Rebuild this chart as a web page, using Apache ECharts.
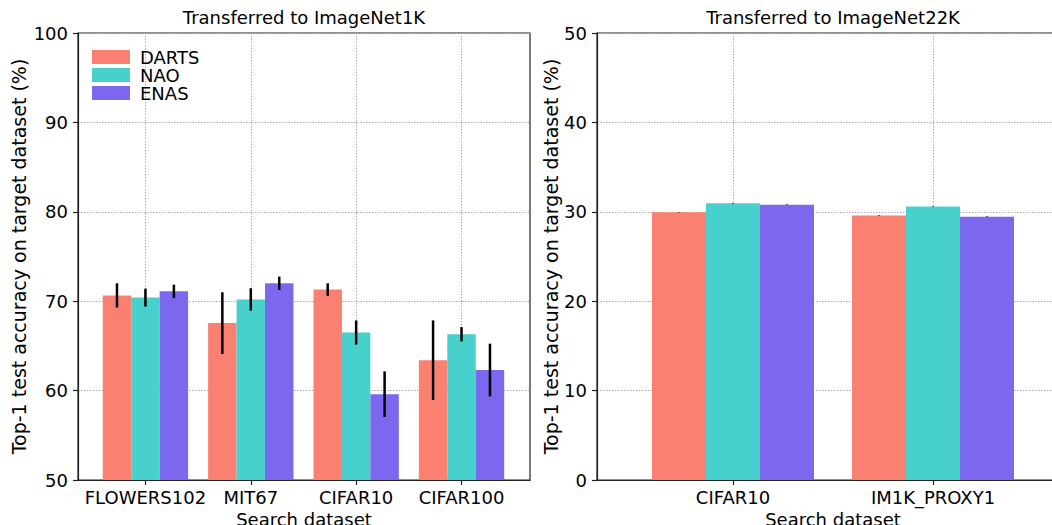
<!DOCTYPE html>
<html>
<head>
<meta charset="utf-8">
<script src="https://cdn.jsdelivr.net/npm/echarts@6/dist/echarts.min.js"></script>
<style>
html,body{margin:0;padding:0;background:#fff;}
#chart{width:1052px;height:525px;}
</style>
</head>
<body>
<div id="chart"></div>
<script>
// ---- data ----
const methods = ['DARTS', 'NAO', 'ENAS'];
const colors = ['#FA8072', '#48D1CC', '#7B68EE'];

const leftCategories = ['FLOWERS102', 'MIT67', 'CIFAR10', 'CIFAR100'];
const leftDARTS = [70.65, 67.55, 71.3, 63.4];
const leftNAO   = [70.4, 70.2, 66.5, 66.3];
const leftENAS  = [71.1, 72.0, 59.6, 62.3];
const leftDARTSErr = [1.35, 3.45, 0.7, 4.45];
const leftNAOErr   = [1.0, 1.25, 1.35, 0.8];
const leftENASErr  = [0.75, 0.75, 2.55, 2.95];

const rightCategories = ['CIFAR10', 'IM1K_PROXY1'];
const rightDARTS = [29.95, 29.6];
const rightNAO   = [30.95, 30.6];
const rightENAS  = [30.8, 29.45];
const rightDARTSErr = [0.04, 0.04];
const rightNAOErr   = [0.04, 0.04];
const rightENASErr  = [0.04, 0.04];

const leftYTicks = [50, 60, 70, 80, 90, 100];
const rightYTicks = [0, 10, 20, 30, 40, 50];

// ---- layout ----
const FONT = 'DejaVu Sans';
const FS = 18;
const barUnit = 0.27;
const L = {left: 78, top: 33, width: 452, height: 447, min: -0.64, max: 3.65};
const R = {left: 597, top: 33, width: 472, height: 447, min: -0.68, max: 1.68};
const pxPerUnit = g => g.width / (g.max - g.min);

const leftVals = [leftDARTS, leftNAO, leftENAS];
const leftErrs = [leftDARTSErr, leftNAOErr, leftENASErr];
const rightVals = [rightDARTS, rightNAO, rightENAS];
const rightErrs = [rightDARTSErr, rightNAOErr, rightENASErr];

function errRender(lw) {
  return function (params, api) {
    const x = api.value(0);
    const p1 = api.coord([x, api.value(1)]);
    const p2 = api.coord([x, api.value(2)]);
    return {type: 'line', shape: {x1: p1[0], y1: p1[1], x2: p2[0], y2: p2[1]},
            style: {stroke: '#000', lineWidth: lw}};
  };
}

const series = [];
function addPanel(vals, errs, axisIdx, g, lw) {
  const bw = barUnit * pxPerUnit(g);
  vals.forEach((arr, s) => {
    const off = (s - 1) * barUnit;
    series.push({
      name: methods[s], type: 'bar', xAxisIndex: axisIdx, yAxisIndex: axisIdx,
      barWidth: bw, barGap: '-100%',
      itemStyle: {color: colors[s]},
      data: arr.map((v, i) => [i + off, v]),
      z: 2
    });
    series.push({
      type: 'custom', xAxisIndex: axisIdx, yAxisIndex: axisIdx,
      renderItem: errRender(lw),
      data: arr.map((v, i) => [i + off, v - errs[s][i], v + errs[s][i]]),
      z: 5, silent: true
    });
  });
}
addPanel(leftVals, leftErrs, 0, L, 2.5);
addPanel(rightVals, rightErrs, 1, R, 1.5);

function xAxisFor(g, idx, cats) {
  const vals = cats.map((c, i) => i);
  return {
    type: 'value', gridIndex: idx, min: g.min, max: g.max,
    name: 'Search dataset', nameLocation: 'middle', nameGap: 24,
    nameTextStyle: {fontFamily: FONT, fontSize: FS, color: '#000'},
    axisLine: {show: true, onZero: false, lineStyle: {color: '#222', width: 1.2}},
    axisTick: {show: true, customValues: vals, length: 5, lineStyle: {color: '#222', width: 1.2}},
    axisLabel: {customValues: vals, formatter: v => cats[Math.round(v)], margin: 8,
                fontFamily: FONT, fontSize: FS, color: '#000'},
    splitLine: {show: true, lineStyle: {color: '#aaa', width: 1, type: [1.5, 1.5]}}
  };
}
function yAxisFor(idx, ticks, gap) {
  return {
    type: 'value', gridIndex: idx, min: ticks[0], max: ticks[ticks.length - 1],
    interval: ticks[1] - ticks[0],
    name: 'Top-1 test accuracy on target dataset (%)', nameLocation: 'middle', nameGap: gap,
    nameTextStyle: {fontFamily: FONT, fontSize: 19, color: '#000'},
    axisLine: {show: true, onZero: false, lineStyle: {color: '#222', width: 1.2}},
    axisTick: {show: true, length: 5, lineStyle: {color: '#222', width: 1.2}},
    axisLabel: {margin: 10, fontFamily: FONT, fontSize: FS, color: '#000'},
    splitLine: {show: true, lineStyle: {color: '#aaa', width: 1, type: [1.5, 1.5]}}
  };
}

const chart = echarts.init(document.getElementById('chart'), null, {renderer: 'svg'});
chart.setOption({
  animation: false,
  backgroundColor: '#fff',
  title: [
    {text: 'Transferred to ImageNet1K', left: L.left + L.width / 2, top: 8, textAlign: 'center', padding: 0,
     textStyle: {fontFamily: FONT, fontSize: 18, fontWeight: 'normal', color: '#000'}},
    {text: 'Transferred to ImageNet22K', left: R.left + R.width / 2, top: 8, textAlign: 'center', padding: 0,
     textStyle: {fontFamily: FONT, fontSize: 18, fontWeight: 'normal', color: '#000'}}
  ],
  legend: {
    data: methods, orient: 'vertical', left: 92, top: 48, icon: 'rect',
    itemWidth: 38, itemHeight: 14, itemGap: 0, padding: 0,
    textStyle: {fontFamily: FONT, fontSize: 18, color: '#000', padding: [0, 0, 0, 5]}
  },
  grid: [
    {left: L.left, top: L.top, width: L.width, height: L.height, outerBoundsMode: 'none', containLabel: false,
     show: true, borderColor: '#222', borderWidth: 1.2, backgroundColor: 'transparent'},
    {left: R.left, top: R.top, width: R.width, height: R.height, outerBoundsMode: 'none', containLabel: false,
     show: true, borderColor: '#222', borderWidth: 1.2, backgroundColor: 'transparent'}
  ],
  xAxis: [xAxisFor(L, 0, leftCategories), xAxisFor(R, 1, rightCategories)],
  yAxis: [yAxisFor(0, leftYTicks, 50), yAxisFor(1, rightYTicks, 25)],
  series: series
});
</script>
</body>
</html>
